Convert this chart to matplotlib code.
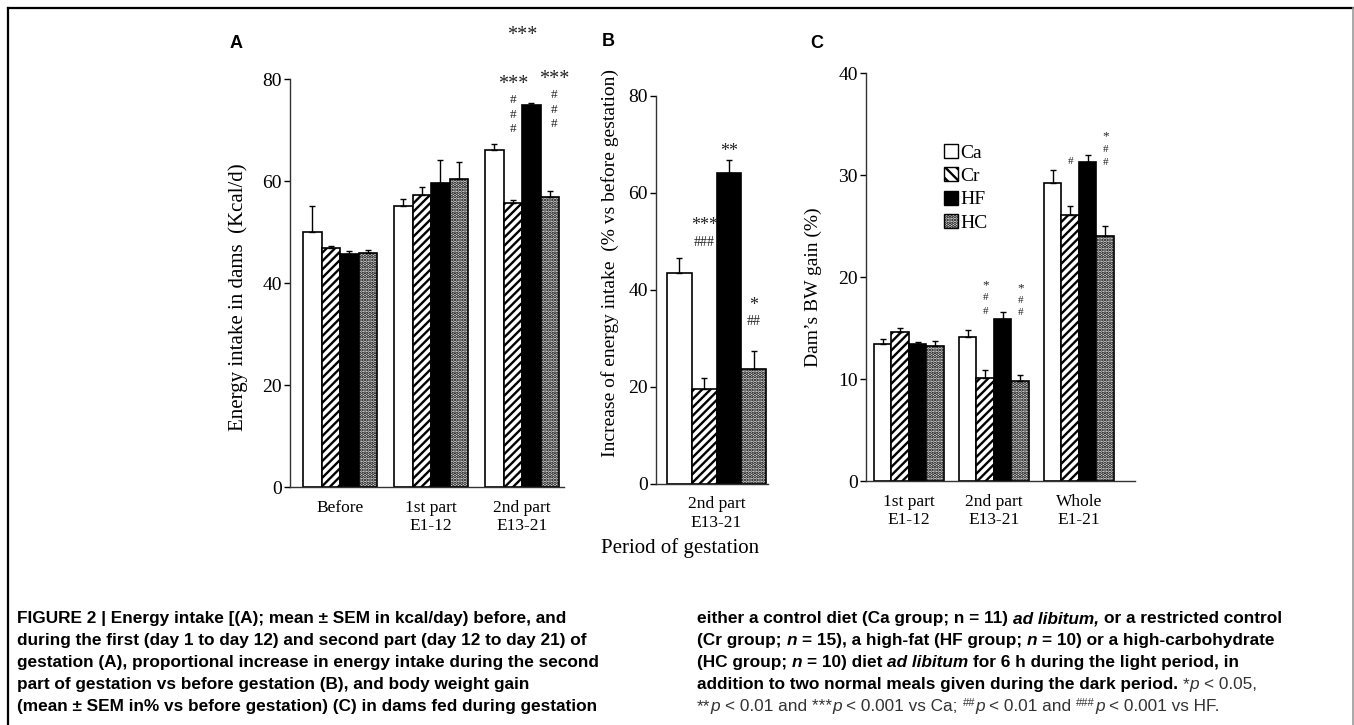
import matplotlib
matplotlib.use('Agg')
import matplotlib.pyplot as plt
from matplotlib.patches import Patch
from matplotlib.lines import Line2D
from matplotlib import font_manager
import numpy as np

W, H = 1354, 725
plt.rcParams['font.family'] = 'Liberation Serif'
plt.rcParams['hatch.linewidth'] = 1.7

diets = ['Ca', 'Cr', 'HF', 'HC']

# panel A: energy intake (kcal/d)
groups_a = ['Before', '1st part\nE1-12', '2nd part\nE13-21']
energy_mean = {'Ca': [50.0, 55.1, 66.1], 'Cr': [46.9, 57.2, 55.7],
               'HF': [45.7, 59.6, 74.9], 'HC': [45.9, 60.4, 56.9]}
energy_sem = {'Ca': [5.1, 1.4, 1.2], 'Cr': [0.4, 1.6, 0.6],
              'HF': [0.6, 4.5, 0.4], 'HC': [0.6, 3.3, 1.1]}

# panel B: increase of energy intake (% vs before)
groups_b = ['2nd part\nE13-21']
incr_mean = {'Ca': [43.5], 'Cr': [19.6], 'HF': [64.1], 'HC': [23.7]}
incr_sem = {'Ca': [3.1], 'Cr': [2.3], 'HF': [2.7], 'HC': [3.7]}

# panel C: BW gain (%)
groups_c = ['1st part\nE1-12', '2nd part\nE13-21', 'Whole\nE1-21']
bw_mean = {'Ca': [13.4, 14.1, 29.2], 'Cr': [14.6, 10.1, 26.1],
           'HF': [13.4, 15.9, 31.3], 'HC': [13.2, 9.8, 24.0]}
bw_sem = {'Ca': [0.5, 0.7, 1.3], 'Cr': [0.4, 0.8, 0.9],
          'HF': [0.2, 0.7, 0.7], 'HC': [0.5, 0.6, 1.0]}

# significance marks: (group, diet index or None for group centre, text, y, size)
marks_a = [(2, None, '***', 88.6, 14.5), (2, 1, '***', 79.0, 14.5),
           (2, 1, '#', 75.9, 9.5), (2, 1, '#', 73.0, 9.5), (2, 1, '#', 70.1, 9.5),
           (2, 3.25, '***', 80.0, 14.5),
           (2, 3.25, '#', 76.9, 9.5), (2, 3.25, '#', 74.0, 9.5), (2, 3.25, '#', 71.1, 9.5)]
marks_b = [(0, 2, '**', 68.5, 13), (0, 1, '***', 53.2, 13), (0, 1, '###', 49.7, 10),
           (0, 3, '*', 36.9, 13), (0, 3, '##', 33.6, 10)]
marks_c = [(1, 1, '*', 19.2, 9.5), (1, 1, '#', 18.0, 8), (1, 1, '#', 16.6, 8),
           (1, 3, '*', 18.9, 9.5), (1, 3, '#', 17.7, 8), (1, 3, '#', 16.5, 8),
           (2, 1, '#', 31.3, 8),
           (2, 3, '*', 33.8, 9.5), (2, 3, '#', 32.5, 8), (2, 3, '#', 31.2, 8)]

styles = {'Ca': dict(color='white'),
          'Cr': dict(color='white', hatch='////'),
          'HF': dict(color='black'),
          'HC': dict(color='#e2e2e2', hatch='.....')}


def fx(px):
    return px / W


def fy(py):
    return 1 - py / H


fig = plt.figure(figsize=(13.54, 7.25), dpi=100)


def make_axes(left, right, top, bottom):
    return fig.add_axes([fx(left), fy(bottom), (right - left) / W, (bottom - top) / H])


def draw_panel(ax, groups, means, sems, width, xlim, ylim, yticks, marks):
    n = len(groups)
    for i, d in enumerate(diets):
        x = np.arange(n) + (i - 1.5) * width
        ax.bar(x, means[d], width, yerr=[np.zeros(n), sems[d]], capsize=2.5,
               edgecolor='black', linewidth=1.2, facecolor=styles[d]['color'],
               hatch=styles[d].get('hatch'),
               error_kw=dict(elinewidth=1.0, capthick=1.0, ecolor='black'))
    for g, di, txt, y, size in marks:
        xpos = g if di is None else g + (di - 1.5) * width
        ax.text(xpos, y, txt, ha='center', va='center', fontsize=size,
                clip_on=False, color='#222222')
    ax.set_xlim(*xlim)
    ax.set_ylim(*ylim)
    ax.set_yticks(yticks)
    ax.set_xticks(np.arange(n))
    ax.set_xticklabels(groups)
    for s in ['top', 'right']:
        ax.spines[s].set_visible(False)
    for s in ['left', 'bottom']:
        ax.spines[s].set_linewidth(1.0)
        ax.spines[s].set_color('#333333')
    ax.tick_params(axis='y', direction='out', length=4, width=1, labelsize=14, pad=2)
    ax.tick_params(axis='x', length=0, pad=9, labelsize=12.5)


ax_a = make_axes(290, 564, 79, 487)
draw_panel(ax_a, groups_a, energy_mean, energy_sem, 0.203, (-0.55, 2.46), (0, 80),
           [0, 20, 40, 60, 80], marks_a)
ax_b = make_axes(656, 768, 96, 484)
draw_panel(ax_b, groups_b, incr_mean, incr_sem, 0.25, (-0.612, 0.52), (0, 80),
           [0, 20, 40, 60, 80], marks_b)
ax_c = make_axes(866, 1135, 73, 481)
draw_panel(ax_c, groups_c, bw_mean, bw_sem, 0.206, (-0.506, 2.66), (0, 40),
           [0, 10, 20, 30, 40], marks_c)

# legend
handles = [Patch(facecolor='white', edgecolor='black'),
           Patch(facecolor='white', edgecolor='black', hatch='\\\\\\'),
           Patch(facecolor='black', edgecolor='black'),
           Patch(facecolor='#e2e2e2', edgecolor='black', hatch='.....')]
fig.legend(handles, diets, loc='upper left', bbox_to_anchor=(fx(944), fy(144)),
           bbox_transform=fig.transFigure, frameon=False, fontsize=14,
           handlelength=0.7, handleheight=0.7, handletextpad=0.15,
           labelspacing=0.3, borderpad=0, borderaxespad=0)

# axis labels
fig.text(fx(238), fy(297), 'Energy intake in dams  (Kcal/d)', rotation=90,
         ha='center', va='center', fontsize=15)
fig.text(fx(610), fy(263), 'Increase of energy intake  (% vs before gestation)',
         rotation=90, ha='center', va='center', fontsize=14)
fig.text(fx(813), fy(287), 'Dam\u2019s BW gain (%)', rotation=90,
         ha='center', va='center', fontsize=14)
fig.text(fx(680), fy(548), 'Period of gestation', ha='center', va='center', fontsize=15)

for lab, px, py in [('A', 236, 43), ('B', 608, 42), ('C', 817, 43)]:
    fig.text(fx(px), fy(py), lab, ha='center', va='center', fontsize=13,
             fontweight='bold', family='Liberation Sans')

# frame
fig.add_artist(Line2D([fx(8), fx(8)], [0, fy(8)], color='black', lw=1.6,
                      transform=fig.transFigure))
fig.add_artist(Line2D([fx(8), fx(1353)], [fy(8), fy(8)], color='black', lw=1.6,
                      transform=fig.transFigure))
fig.add_artist(Line2D([fx(1352.5), fx(1352.5)], [0, fy(8)], color='#999999', lw=1.2,
                      transform=fig.transFigure))

# caption
names = {f.name for f in font_manager.fontManager.ttflist}
cap_family = 'Liberation Sans Narrow' if 'Liberation Sans Narrow' in names else 'Liberation Sans'
cap_size = 12.4
renderer = fig.canvas.get_renderer()

B = dict(fontweight='bold')
BI = dict(fontweight='bold', fontstyle='italic')
N = dict(fontweight='normal', color='#333333')
I = dict(fontweight='normal', fontstyle='italic', color='#333333')
S = dict(fontweight='normal', color='#333333', size=8, dy=-5)


def text_w(s, kw):
    t = fig.text(0, 0, s, family=cap_family, fontsize=kw.get('size', cap_size),
                 fontweight=kw.get('fontweight', 'normal'),
                 fontstyle=kw.get('fontstyle', 'normal'))
    w = t.get_window_extent(renderer).width
    t.remove()
    return w


def rich_line(x, y, parts):
    for s, kw in parts:
        sp = text_w('a a', kw) - text_w('aa', kw)
        lead = len(s) - len(s.lstrip(' '))
        trail = len(s) - len(s.rstrip(' '))
        core = s.strip(' ')
        x += lead * sp
        if core:
            t = fig.text(fx(x), fy(y + kw.get('dy', 0)), core, va='baseline', ha='left',
                         family=cap_family, fontsize=kw.get('size', cap_size),
                         fontweight=kw.get('fontweight', 'normal'),
                         fontstyle=kw.get('fontstyle', 'normal'),
                         color=kw.get('color', 'black'))
            x += t.get_window_extent(renderer).width
        x += trail * sp


left_lines = ['FIGURE 2 | Energy intake [(A); mean \u00b1 SEM in kcal/day) before, and',
              'during the first (day 1 to day 12) and second part (day 12 to day 21) of',
              'gestation (A), proportional increase in energy intake during the second',
              'part of gestation vs before gestation (B), and body weight gain',
              '(mean \u00b1 SEM in% vs before gestation) (C) in dams fed during gestation']
right_lines = [
    [('either a control diet (Ca group; n = 11) ', B), ('ad libitum,', BI),
     (' or a restricted control', B)],
    [('(Cr group; ', B), ('n', BI), (' = 15), a high-fat (HF group; ', B), ('n', BI),
     (' = 10) or a high-carbohydrate', B)],
    [('(HC group; ', B), ('n', BI), (' = 10) diet ', B), ('ad libitum', BI),
     (' for 6 h during the light period, in', B)],
    [('addition to two normal meals given during the dark period. ', B), ('*', N),
     ('p', I), (' < 0.05,', N)],
    [('**', N), ('p', I), (' < 0.01 and ***', N), ('p', I), (' < 0.001 vs Ca; ', N),
     ('##', S), ('p', I), (' < 0.01 and ', N), ('###', S), ('p', I), (' < 0.001 vs HF.', N)],
]
baselines = [623, 645, 667, 689, 711]
for line, yb in zip(left_lines, baselines):
    rich_line(17, yb, [(line, B)])
for parts, yb in zip(right_lines, baselines):
    rich_line(697, yb, parts)

fig.savefig('out.png', dpi=100)
